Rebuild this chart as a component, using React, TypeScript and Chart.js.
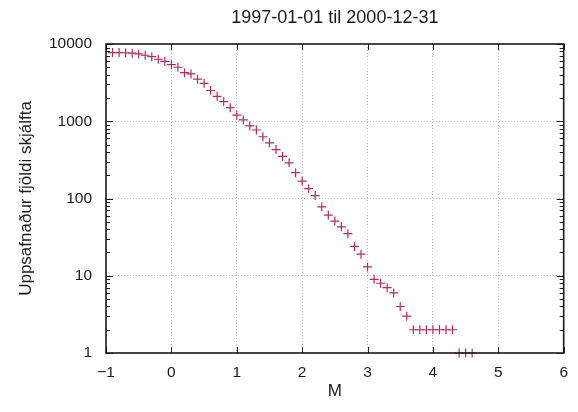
import React, { useEffect, useRef } from "react";
import { Chart, registerables } from "chart.js";

Chart.register(...registerables);

const TITLE = "1997-01-01 til 2000-12-31";
const X_LABEL = "M";
const Y_LABEL = "Uppsafnaður fjöldi skjálfta";

const magnitudes = [
  -0.9, -0.8, -0.7, -0.6, -0.5, -0.4, -0.3, -0.2, -0.1, 0.0,
  0.1, 0.2, 0.3, 0.4, 0.5, 0.6, 0.7, 0.8, 0.9, 1.0,
  1.1, 1.2, 1.3, 1.4, 1.5, 1.6, 1.7, 1.8, 1.9, 2.0,
  2.1, 2.2, 2.3, 2.4, 2.5, 2.6, 2.7, 2.8, 2.9, 3.0,
  3.1, 3.2, 3.3, 3.4, 3.5, 3.6, 3.7, 3.8, 3.9, 4.0,
  4.1, 4.2, 4.3, 4.4, 4.5, 4.6,
];

const cumulativeCounts = [
  7750, 7750, 7700, 7600, 7450, 7150, 6850, 6350, 5950, 5400,
  5000, 4250, 4100, 3500, 3100, 2500, 2100, 1800, 1500, 1200,
  1040, 870, 770, 630, 525, 430, 350, 290, 216, 168,
  134, 109, 78, 61, 51, 43, 35, 24, 19, 13,
  9, 8, 7, 6, 4, 3, 2, 2, 2, 2,
  2, 2, 2, 1, 1, 1,
];

const xTicks = [-1, 0, 1, 2, 3, 4, 5, 6];
const yTicks = [1, 10, 100, 1000, 10000];

const FONT = "'Liberation Sans', Arial, Helvetica, sans-serif";
const INK = "#1a1a1a";
const MARK = "#b52c58";

const framePlugin = {
  id: "frameTicks",
  afterDatasetsDraw(chart: any) {
    const { ctx, chartArea, scales } = chart;
    const { left, right, top, bottom } = chartArea;
    const x = scales.x;
    const y = scales.y;
    ctx.save();
    ctx.strokeStyle = INK;
    ctx.lineWidth = 1;
    ctx.beginPath();
    for (const v of xTicks) {
      const px = Math.round(x.getPixelForValue(v)) + 0.5;
      ctx.moveTo(px, bottom);
      ctx.lineTo(px, bottom - 6);
      ctx.moveTo(px, top);
      ctx.lineTo(px, top + 6);
    }
    for (let i = 0; i < yTicks.length; i++) {
      const v = yTicks[i];
      const py = Math.round(y.getPixelForValue(v)) + 0.5;
      ctx.moveTo(left, py);
      ctx.lineTo(left + 7, py);
      ctx.moveTo(right, py);
      ctx.lineTo(right - 7, py);
      if (i < yTicks.length - 1) {
        for (let k = 2; k <= 9; k++) {
          const pm = Math.round(y.getPixelForValue(v * k)) + 0.5;
          ctx.moveTo(left, pm);
          ctx.lineTo(left + 4, pm);
          ctx.moveTo(right, pm);
          ctx.lineTo(right - 4, pm);
        }
      }
    }
    ctx.stroke();
    ctx.lineWidth = 1.6;
    ctx.strokeRect(left, top, right - left, bottom - top);
    ctx.restore();
  },
};

export default function App() {
  const canvasRef = useRef<HTMLCanvasElement | null>(null);

  useEffect(() => {
    const canvas = canvasRef.current;
    if (!canvas) return;
    const points = magnitudes.map((m, i) => ({ x: m, y: cumulativeCounts[i] }));
    const gridColor = (c: any) => {
      const v = c.tick ? c.tick.value : null;
      const scale = c.scale;
      if (v === scale.min || v === scale.max) return "rgba(0,0,0,0)";
      return "rgba(0,0,0,0.25)";
    };
    const chart = new Chart(canvas, {
      type: "scatter",
      data: {
        datasets: [
          {
            data: points,
            showLine: false,
            pointStyle: "cross",
            pointRadius: 4.5,
            pointHoverRadius: 4.5,
            pointBorderColor: MARK,
            pointBackgroundColor: MARK,
            pointBorderWidth: 1.2,
            clip: false as any,
          },
        ],
      },
      options: {
        animation: false,
        responsive: false,
        maintainAspectRatio: false,
        events: [],
        layout: { padding: { left: 0, right: 11, top: 0, bottom: 0 } },
        plugins: {
          legend: { display: false },
          tooltip: { enabled: false },
          title: {
            display: true,
            text: TITLE,
            fullSize: false,
            color: INK,
            font: { family: FONT, size: 18, weight: "normal" },
            padding: { top: 7.5, bottom: 14.9 },
          },
        },
        scales: {
          x: {
            type: "linear",
            min: -1,
            max: 6,
            afterBuildTicks: (scale: any) => {
              scale.ticks = xTicks.map((v) => ({ value: v }));
            },
            afterFit: (scale: any) => {
              scale.height = 59;
            },
            ticks: {
              color: INK,
              font: { family: FONT, size: 15.5 },
              padding: 10,
              maxRotation: 0,
              autoSkip: false,
              callback: (v: any) => (Number(v) < 0 ? "\u2212" + Math.abs(Number(v)) : String(v)),
            },
            grid: { color: gridColor, lineWidth: 1, drawTicks: false },
            border: { display: false, dash: [1, 2] },
            title: {
              display: true,
              text: X_LABEL,
              color: INK,
              font: { family: FONT, size: 17 },
              padding: { top: 0, bottom: 10 },
            },
          },
          y: {
            type: "logarithmic",
            min: 1,
            max: 10000,
            afterBuildTicks: (scale: any) => {
              scale.ticks = yTicks.map((v) => ({ value: v, major: true }));
            },
            afterFit: (scale: any) => {
              scale.width = 106;
            },
            ticks: {
              color: INK,
              font: { family: FONT, size: 15.5 },
              padding: 14,
              autoSkip: false,
              callback: (v: any) => String(v),
            },
            grid: { color: gridColor, lineWidth: 1, drawTicks: false },
            border: { display: false, dash: [1, 2] },
            title: {
              display: true,
              text: Y_LABEL,
              color: INK,
              font: { family: FONT, size: 17 },
              padding: { top: 16, bottom: 0 },
            },
          },
        },
      },
      plugins: [framePlugin],
    } as any);
    return () => chart.destroy();
  }, []);

  return (
    <div style={{ position: "fixed", left: 0, top: 0, width: 578, height: 412, background: "#fff" }}>
      <canvas ref={canvasRef} width={578} height={412} style={{ width: 578, height: 412, display: "block" }} />
    </div>
  );
}
